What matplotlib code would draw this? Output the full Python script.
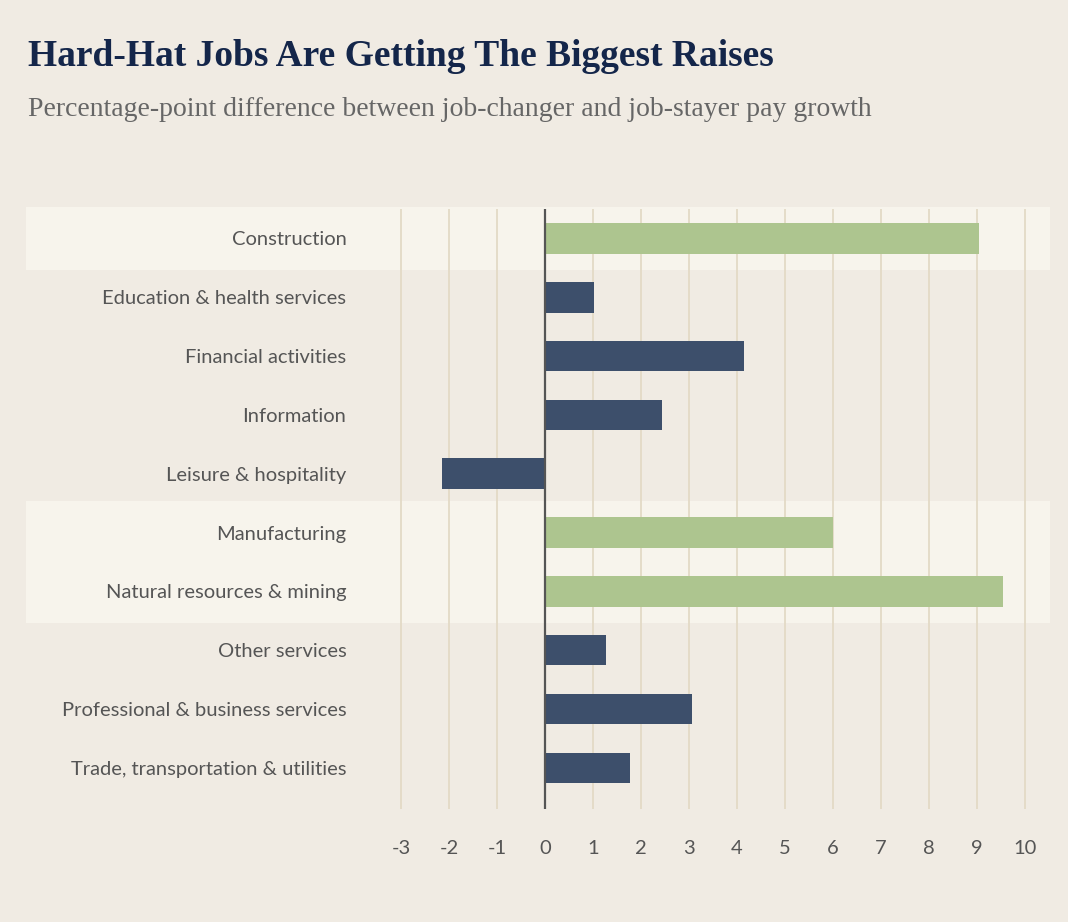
import matplotlib
matplotlib.use("Agg")
import matplotlib.pyplot as plt
from matplotlib.patches import Rectangle

categories = ["Construction", "Education & health services", "Financial activities", "Information",
              "Leisure & hospitality", "Manufacturing", "Natural resources & mining", "Other services",
              "Professional & business services", "Trade, transportation & utilities"]
values = [9.05, 1.02, 4.15, 2.44, -2.15, 6.0, 9.54, 1.27, 3.06, 1.77]
highlight = ["Construction", "Manufacturing", "Natural resources & mining"]
ticks = list(range(-3, 11))

BG = "#f0ebe3"; BAND = "#f7f4ec"; GREEN = "#adc58f"; NAVY = "#3d4f6b"; GRID = "#e3dac6"

W, H = 1068, 922
fig = plt.figure(figsize=(W/100, H/100), dpi=100, facecolor=BG)
ax = fig.add_axes([370/W, 1-809/H, (1050-370)/W, (809-209)/H])
ax.set_facecolor("none")
ax.set_xlim(-3.65, 10.52)
ax.set_ylim(9.7, -0.5)

for i, c in enumerate(categories):
    if c in highlight:
        r = Rectangle((26/W, 0), (1050-26)/W, 1, transform=matplotlib.transforms.blended_transform_factory(fig.transFigure, ax.transData),
                      facecolor=BAND, edgecolor="none", zorder=0)
        r.set_xy((26/W, i-0.53)); r.set_height(1.06)
        fig.add_artist(r)

for t in ticks:
    ax.axvline(t, color=GRID, lw=1.3, zorder=1)
ax.axvline(0, color="#555555", lw=1.6, zorder=3)

colors = [GREEN if c in highlight else NAVY for c in categories]
ax.barh(range(len(categories)), values, height=0.52, color=colors, zorder=2)

ax.set_yticks(range(len(categories)))
ax.set_yticklabels(categories, fontsize=14.5, color="#555555", family="Lato")
ax.set_xticks(ticks)
ax.set_xticklabels([str(t) for t in ticks], fontsize=14.5, color="#555555", family="Lato")
ax.tick_params(length=0, axis="y", pad=17)
ax.tick_params(length=0, axis="x", pad=22)
for s in ax.spines.values():
    s.set_visible(False)

fig.text(28/W, 1-57/H, "Hard-Hat Jobs Are Getting The Biggest Raises", fontsize=27, weight="bold",
         family="Liberation Serif", color="#14264a", va="center")
fig.text(28/W, 1-110/H, "Percentage-point difference between job-changer and job-stayer pay growth",
         fontsize=20, family="Liberation Serif", color="#666666", va="center")

fig.savefig("out.png", dpi=100, facecolor=BG)
